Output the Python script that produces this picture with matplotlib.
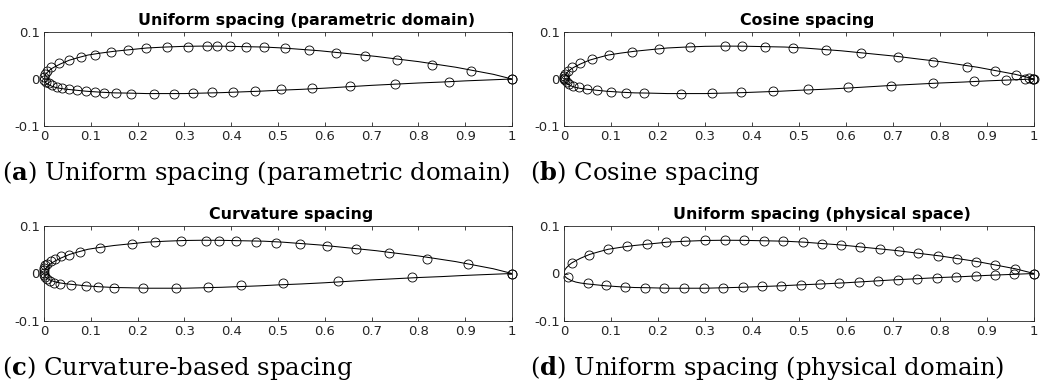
import matplotlib
matplotlib.use("Agg")
import matplotlib.pyplot as plt

# ---------------- data ----------------
# airfoil outline (drawn as line in all panels)
contour_xu = [0, 0.0005, 0.002, 0.005, 0.010, 0.016, 0.025, 0.035, 0.054, 0.075, 0.094, 0.12, 0.15, 0.18,
              0.22, 0.26, 0.30, 0.34, 0.38, 0.42, 0.47, 0.51, 0.55, 0.59, 0.63, 0.67, 0.71, 0.75, 0.80,
              0.84, 0.88, 0.92, 0.96, 1.0]
contour_yu = [0, 0.004, 0.008, 0.012, 0.017, 0.022, 0.027, 0.032, 0.040, 0.046, 0.051, 0.055, 0.059, 0.062,
              0.066, 0.068, 0.0695, 0.070, 0.0698, 0.069, 0.068, 0.066, 0.063, 0.060, 0.056, 0.052, 0.048,
              0.043, 0.037, 0.031, 0.025, 0.0175, 0.0100, 0.0]
contour_xl = [0, 0.0005, 0.002, 0.005, 0.010, 0.016, 0.025, 0.035, 0.050, 0.07, 0.09, 0.12, 0.15, 0.18,
              0.22, 0.26, 0.30, 0.34, 0.38, 0.42, 0.46, 0.50, 0.55, 0.60, 0.65, 0.70, 0.75, 0.80, 0.85,
              0.90, 0.95, 1.0]
contour_yl = [0, -0.003, -0.006, -0.009, -0.012, -0.015, -0.018, -0.020, -0.022, -0.024, -0.026, -0.028,
              -0.0295, -0.030, -0.031, -0.031, -0.031, -0.030, -0.029, -0.0275, -0.026, -0.024, -0.022,
              -0.0195, -0.0165, -0.0135, -0.011, -0.0085, -0.0065, -0.004, -0.002, 0.0]

# (a) uniform spacing in parametric domain
a_xu = [0.000, 0.002, 0.007, 0.016, 0.033, 0.053, 0.078, 0.109, 0.143, 0.179, 0.218, 0.263, 0.307, 0.348,
        0.370, 0.397, 0.431, 0.470, 0.514, 0.566, 0.623, 0.686, 0.754, 0.830, 0.912, 1.000]
a_yu = [0.004, 0.011, 0.018, 0.025, 0.033, 0.040, 0.046, 0.052, 0.057, 0.061, 0.065, 0.068, 0.069, 0.070,
        0.070, 0.0695, 0.069, 0.068, 0.065, 0.061, 0.056, 0.050, 0.041, 0.030, 0.017, 0.000]
a_xl = [0.001, 0.005, 0.010, 0.017, 0.027, 0.039, 0.054, 0.071, 0.089, 0.108, 0.129, 0.153, 0.186, 0.234,
        0.277, 0.318, 0.358, 0.403, 0.450, 0.506, 0.572, 0.653, 0.750, 0.865, 1.000]
a_yl = [-0.003, -0.006, -0.009, -0.012, -0.016, -0.019, -0.022, -0.024, -0.026, -0.028, -0.029, -0.030,
        -0.031, -0.031, -0.031, -0.030, -0.0285, -0.027, -0.025, -0.022, -0.0185, -0.015, -0.011, -0.0055, 0.000]

# (b) cosine spacing
b_xu = [0.000, 0.000, 0.001, 0.003, 0.008, 0.017, 0.034, 0.059, 0.096, 0.145, 0.203, 0.269, 0.343, 0.378,
        0.428, 0.488, 0.557, 0.632, 0.710, 0.786, 0.857, 0.916, 0.962, 0.990, 0.998, 1.000]
b_yu = [0.000, 0.003, 0.006, 0.011, 0.018, 0.026, 0.035, 0.043, 0.051, 0.058, 0.064, 0.068, 0.070, 0.070,
        0.069, 0.067, 0.062, 0.056, 0.046, 0.036, 0.026, 0.017, 0.009, 0.003, 0.001, 0.000]
b_xl = [0.002, 0.006, 0.011, 0.020, 0.032, 0.049, 0.070, 0.099, 0.131, 0.171, 0.249, 0.314, 0.377, 0.444,
        0.520, 0.604, 0.695, 0.786, 0.872, 0.940, 0.981, 0.997]
b_yl = [-0.003, -0.006, -0.010, -0.014, -0.018, -0.021, -0.024, -0.027, -0.029, -0.030, -0.031, -0.030,
        -0.028, -0.025, -0.022, -0.018, -0.014, -0.009, -0.005, -0.002, -0.001, 0.000]

# (c) curvature-based spacing
c_xu = [0.000, 0.000, 0.001, 0.003, 0.007, 0.014, 0.024, 0.036, 0.053, 0.077, 0.119, 0.189, 0.238, 0.293,
        0.346, 0.373, 0.410, 0.453, 0.496, 0.547, 0.604, 0.666, 0.738, 0.819, 0.906, 1.000]
c_yu = [0.002, 0.007, 0.012, 0.017, 0.021, 0.026, 0.031, 0.036, 0.040, 0.046, 0.054, 0.062, 0.066, 0.0685,
        0.069, 0.0688, 0.0685, 0.067, 0.065, 0.062, 0.058, 0.052, 0.043, 0.031, 0.019, 0.000]
c_xl = [0.000, 0.002, 0.006, 0.012, 0.021, 0.035, 0.057, 0.090, 0.115, 0.149, 0.2105, 0.283, 0.350, 0.420,
        0.510, 0.629, 0.787, 1.000]
c_yl = [-0.003, -0.007, -0.011, -0.016, -0.020, -0.023, -0.025, -0.027, -0.028, -0.030, -0.031, -0.030,
        -0.028, -0.025, -0.021, -0.016, -0.008, 0.000]

# (d) uniform spacing in physical space
d_xu = [0.016, 0.054, 0.094, 0.135, 0.176, 0.217, 0.258, 0.300, 0.3425, 0.384, 0.4255, 0.467, 0.508, 0.548,
        0.589, 0.630, 0.672, 0.713, 0.754, 0.795, 0.836, 0.877, 0.918, 0.960, 1.000]
d_yu = [0.023, 0.040, 0.051, 0.057, 0.0616, 0.0658, 0.0686, 0.0695, 0.070, 0.0695, 0.069, 0.068, 0.066, 0.063,
        0.0595, 0.056, 0.052, 0.0476, 0.0427, 0.037, 0.0315, 0.0245, 0.0175, 0.0105, 0.000]
d_xl = [0.009, 0.050, 0.089, 0.130, 0.172, 0.2135, 0.255, 0.297, 0.338, 0.380, 0.421, 0.462, 0.5035, 0.545,
        0.586, 0.627, 0.669, 0.710, 0.752, 0.793, 0.835, 0.877, 0.917, 0.957, 1.000]
d_yl = [-0.008, -0.020, -0.025, -0.028, -0.030, -0.031, -0.031, -0.031, -0.030, -0.029, -0.027, -0.026,
        -0.024, -0.022, -0.020, -0.018, -0.016, -0.013, -0.011, -0.009, -0.007, -0.005, -0.0035, -0.0015, 0.000]

titles = ["Uniform spacing (parametric domain)", "Cosine spacing",
          "Curvature spacing", "Uniform spacing (physical space)"]
captions = [("a", "Uniform spacing (parametric domain)"), ("b", "Cosine spacing"),
            ("c", "Curvature-based spacing"), ("d", "Uniform spacing (physical domain)")]
xticks = [0, 0.1, 0.2, 0.3, 0.4, 0.5, 0.6, 0.7, 0.8, 0.9, 1]
xticklabels = ["0", "0.1", "0.2", "0.3", "0.4", "0.5", "0.6", "0.7", "0.8", "0.9", "1"]
yticks = [-0.1, 0, 0.1]
yticklabels = ["-0.1", "0", "0.1"]

panels = [(a_xu, a_yu, a_xl, a_yl), (b_xu, b_yu, b_xl, b_yl),
          (c_xu, c_yu, c_xl, c_yl), (d_xu, d_yu, d_xl, d_yl)]

# ---------------- layout ----------------
W, H = 1056, 390
plt.rcParams["mathtext.fontset"] = "dejavuserif"
fig = plt.figure(figsize=(W / 100, H / 100), dpi=100)

boxes = [(44, 32, 512, 126), (564, 32, 1034, 126), (44, 226, 512, 321), (564, 226, 1034, 321)]
title_pos = [(138, 25), (740, 25), (209, 219), (673, 219)]
cap_pos = [(2, 180), (530, 180), (2, 375), (530, 375)]
axc = "#262626"

for i, (xu, yu, xl, yl) in enumerate(panels):
    l, t, r, b = boxes[i]
    ax = fig.add_axes([l / W, 1 - b / H, (r - l) / W, (b - t) / H])
    ax.plot(contour_xu, contour_yu, color="black", lw=0.75)
    ax.plot(contour_xl, contour_yl, color="black", lw=0.75)
    ax.plot(xu, yu, linestyle="none", marker="o", ms=6.5, mfc="none", mec="black", mew=0.6, clip_on=False)
    ax.plot(xl, yl, linestyle="none", marker="o", ms=6.5, mfc="none", mec="black", mew=0.6, clip_on=False)
    ax.set_xlim(0, 1)
    ax.set_ylim(-0.1, 0.1)
    ax.set_xticks(xticks)
    ax.set_xticklabels(xticklabels)
    ax.set_yticks(yticks)
    ax.set_yticklabels(yticklabels)
    ax.tick_params(direction="in", top=True, right=True, length=3, width=0.6,
                   colors=axc, labelsize=9.5, pad=3)
    for s in ax.spines.values():
        s.set_color(axc)
        s.set_linewidth(0.6)
    tx, ty = title_pos[i]
    fig.text(tx / W, 1 - ty / H, titles[i], fontsize=11.4, fontweight="bold", color="black",
             ha="left", va="baseline")
    cx, cy = cap_pos[i]
    letter, text = captions[i]
    fig.text(cx / W, 1 - cy / H, r"($\mathbf{%s}$) %s" % (letter, text),
             family="DejaVu Serif", fontsize=17.5, va="baseline", ha="left", color="black")

fig.savefig("out.png", dpi=100)
